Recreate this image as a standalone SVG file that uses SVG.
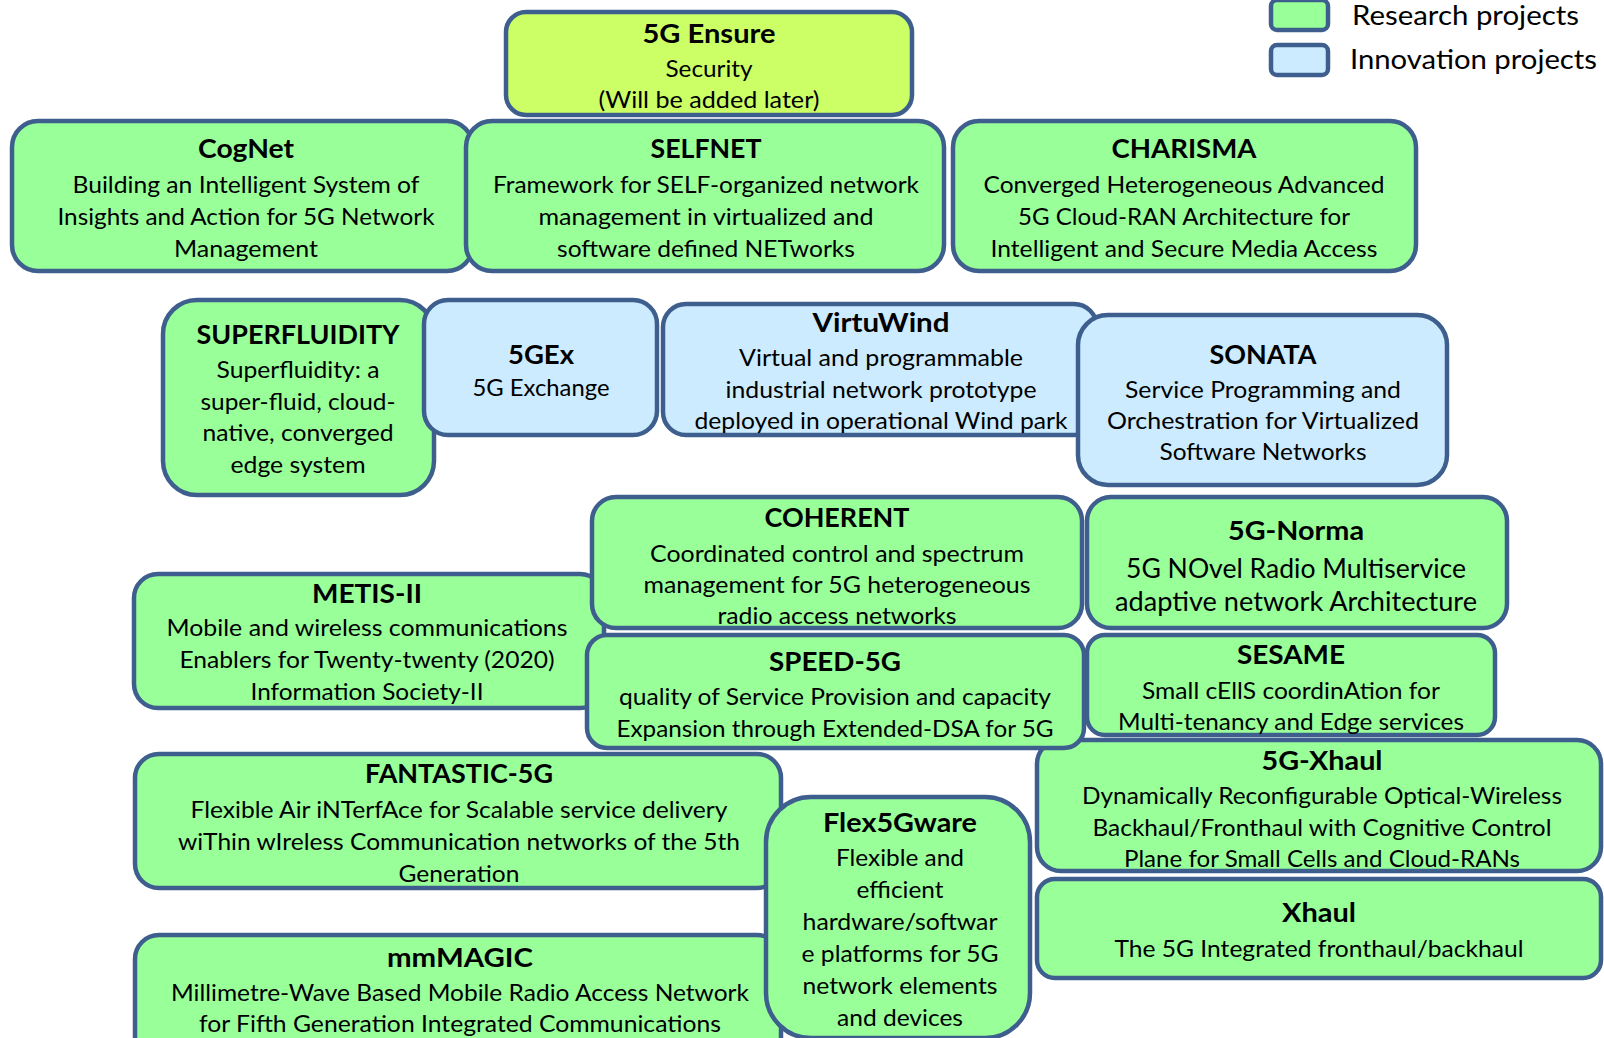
<svg xmlns="http://www.w3.org/2000/svg" width="1604" height="1038" viewBox="0 0 1604 1038">
<style>
.box{stroke:#3E5F8E;stroke-width:4.5}
.g{fill:#99FF99}
.b{fill:#CCEBFF}
.y{fill:#CCFF66}
text{font-family:Lato,"Open Sans","DejaVu Sans",sans-serif;fill:#000;text-anchor:middle}
.t{font-size:27px;font-weight:bold}
.d{font-size:24px}
.n{font-size:27px}
.lg{font-size:27px;text-anchor:start}
</style>
<rect width="1604" height="1038" fill="#fff"/>
<g id="connectors"></g>
<g id="cognet"><rect class="box g" x="12" y="121" width="461" height="150" rx="26"/>
<text class="t" x="246" y="158" textLength="96" lengthAdjust="spacingAndGlyphs">CogNet</text>
<text class="d" x="246" y="193" textLength="347" lengthAdjust="spacingAndGlyphs">Building an Intelligent System of</text>
<text class="d" x="246" y="225" textLength="377" lengthAdjust="spacingAndGlyphs">Insights and Action for 5G Network</text>
<text class="d" x="246" y="257" textLength="144" lengthAdjust="spacingAndGlyphs">Management</text></g>
<g id="selfnet"><rect class="box g" x="466" y="121" width="478" height="150" rx="26"/>
<text class="t" x="706" y="158" textLength="111" lengthAdjust="spacingAndGlyphs">SELFNET</text>
<text class="d" x="706" y="193" textLength="426" lengthAdjust="spacingAndGlyphs">Framework for SELF-organized network</text>
<text class="d" x="706" y="225" textLength="335" lengthAdjust="spacingAndGlyphs">management in virtualized and</text>
<text class="d" x="706" y="257" textLength="298" lengthAdjust="spacingAndGlyphs">software defined NETworks</text></g>
<g id="charisma"><rect class="box g" x="953" y="121" width="463" height="150" rx="26"/>
<text class="t" x="1184" y="158" textLength="145" lengthAdjust="spacingAndGlyphs">CHARISMA</text>
<text class="d" x="1184" y="193" textLength="401" lengthAdjust="spacingAndGlyphs">Converged Heterogeneous Advanced</text>
<text class="d" x="1184" y="225" textLength="332" lengthAdjust="spacingAndGlyphs">5G Cloud-RAN Architecture for</text>
<text class="d" x="1184" y="257" textLength="387" lengthAdjust="spacingAndGlyphs">Intelligent and Secure Media Access</text></g>
<g id="ensure"><rect class="box y" x="506" y="12" width="406" height="103" rx="20"/>
<text class="t" x="709" y="43" textLength="133" lengthAdjust="spacingAndGlyphs">5G Ensure</text>
<text class="d" x="709" y="77" textLength="87" lengthAdjust="spacingAndGlyphs">Security</text>
<text class="d" x="709" y="108" textLength="221" lengthAdjust="spacingAndGlyphs">(Will be added later)</text></g>
<g id="superfluidity"><rect class="box g" x="163" y="300" width="271" height="195" rx="34"/>
<text class="t" x="298" y="344" textLength="203" lengthAdjust="spacingAndGlyphs">SUPERFLUIDITY</text>
<text class="d" x="298" y="378" textLength="163" lengthAdjust="spacingAndGlyphs">Superfluidity: a</text>
<text class="d" x="298" y="410" textLength="195" lengthAdjust="spacingAndGlyphs">super-fluid, cloud-</text>
<text class="d" x="298" y="441" textLength="191" lengthAdjust="spacingAndGlyphs">native, converged</text>
<text class="d" x="298" y="473" textLength="135" lengthAdjust="spacingAndGlyphs">edge system</text></g>
<g id="fivegex"><rect class="box b" x="424" y="300" width="233" height="135" rx="24"/>
<text class="t" x="541" y="364" textLength="66" lengthAdjust="spacingAndGlyphs">5GEx</text>
<text class="d" x="541" y="396" textLength="137" lengthAdjust="spacingAndGlyphs">5G Exchange</text></g>
<g id="virtuwind"><rect class="box b" x="663" y="304" width="434" height="131" rx="23"/>
<text class="t" x="881" y="332" textLength="137" lengthAdjust="spacingAndGlyphs">VirtuWind</text>
<text class="d" x="881" y="366" textLength="284" lengthAdjust="spacingAndGlyphs">Virtual and programmable</text>
<text class="d" x="881" y="398" textLength="311" lengthAdjust="spacingAndGlyphs">industrial network prototype</text>
<text class="d" x="881" y="429" textLength="373" lengthAdjust="spacingAndGlyphs">deployed in operational Wind park</text></g>
<g id="sonata"><rect class="box b" x="1078" y="315" width="369" height="170" rx="30"/>
<text class="t" x="1263" y="364" textLength="107" lengthAdjust="spacingAndGlyphs">SONATA</text>
<text class="d" x="1263" y="398" textLength="276" lengthAdjust="spacingAndGlyphs">Service Programming and</text>
<text class="d" x="1263" y="429" textLength="312" lengthAdjust="spacingAndGlyphs">Orchestration for Virtualized</text>
<text class="d" x="1263" y="460" textLength="207" lengthAdjust="spacingAndGlyphs">Software Networks</text></g>
<g id="metis"><rect class="box g" x="134" y="574" width="470" height="134" rx="24"/>
<text class="t" x="367" y="603" textLength="110" lengthAdjust="spacingAndGlyphs">METIS-II</text>
<text class="d" x="367" y="636" textLength="401" lengthAdjust="spacingAndGlyphs">Mobile and wireless communications</text>
<text class="d" x="367" y="668" textLength="375" lengthAdjust="spacingAndGlyphs">Enablers for Twenty-twenty (2020)</text>
<text class="d" x="367" y="700" textLength="233" lengthAdjust="spacingAndGlyphs">Information Society-II</text></g>
<g id="coherent"><rect class="box g" x="592" y="497" width="490" height="131" rx="24"/>
<text class="t" x="837" y="527" textLength="145" lengthAdjust="spacingAndGlyphs">COHERENT</text>
<text class="d" x="837" y="562" textLength="374" lengthAdjust="spacingAndGlyphs">Coordinated control and spectrum</text>
<text class="d" x="837" y="593" textLength="387" lengthAdjust="spacingAndGlyphs">management for 5G heterogeneous</text>
<text class="d" x="837" y="624" textLength="239" lengthAdjust="spacingAndGlyphs">radio access networks</text></g>
<g id="norma"><rect class="box g" x="1087" y="497" width="420" height="131" rx="24"/>
<text class="t" x="1296" y="540" textLength="136" lengthAdjust="spacingAndGlyphs">5G-Norma</text>
<text class="n" x="1296" y="578" textLength="340" lengthAdjust="spacingAndGlyphs">5G NOvel Radio Multiservice</text>
<text class="n" x="1296" y="611" textLength="362" lengthAdjust="spacingAndGlyphs">adaptive network Architecture</text></g>
<g id="xhaul5g"><rect class="box g" x="1037" y="740" width="564" height="131" rx="24"/>
<text class="t" x="1322" y="770" textLength="121" lengthAdjust="spacingAndGlyphs">5G-Xhaul</text>
<text class="d" x="1322" y="804" textLength="480" lengthAdjust="spacingAndGlyphs">Dynamically Reconfigurable Optical-Wireless</text>
<text class="d" x="1322" y="836" textLength="459" lengthAdjust="spacingAndGlyphs">Backhaul/Fronthaul with Cognitive Control</text>
<text class="d" x="1322" y="867" textLength="396" lengthAdjust="spacingAndGlyphs">Plane for Small Cells and Cloud-RANs</text></g>
<g id="xhaul"><rect class="box g" x="1037" y="879" width="564" height="99" rx="18"/>
<text class="t" x="1319" y="922" textLength="74" lengthAdjust="spacingAndGlyphs">Xhaul</text>
<text class="d" x="1319" y="957" textLength="409" lengthAdjust="spacingAndGlyphs">The 5G Integrated fronthaul/backhaul</text></g>
<g id="speed5g"><rect class="box g" x="587" y="635" width="497" height="113" rx="20"/>
<text class="t" x="835" y="671" textLength="132" lengthAdjust="spacingAndGlyphs">SPEED-5G</text>
<text class="d" x="835" y="705" textLength="432" lengthAdjust="spacingAndGlyphs">quality of Service Provision and capacity</text>
<text class="d" x="835" y="737" textLength="437" lengthAdjust="spacingAndGlyphs">Expansion through Extended-DSA for 5G</text></g>
<g id="sesame"><rect class="box g" x="1087" y="635" width="408" height="100" rx="18"/>
<text class="t" x="1291" y="664" textLength="108" lengthAdjust="spacingAndGlyphs">SESAME</text>
<text class="d" x="1291" y="699" textLength="298" lengthAdjust="spacingAndGlyphs">Small cEllS coordinAtion for</text>
<text class="d" x="1291" y="730" textLength="346" lengthAdjust="spacingAndGlyphs">Multi-tenancy and Edge services</text></g>
<g id="fantastic"><rect class="box g" x="135" y="754" width="646" height="134" rx="24"/>
<text class="t" x="459" y="783" textLength="188" lengthAdjust="spacingAndGlyphs">FANTASTIC-5G</text>
<text class="d" x="459" y="818" textLength="537" lengthAdjust="spacingAndGlyphs">Flexible Air iNTerfAce for Scalable service delivery</text>
<text class="d" x="459" y="850" textLength="562" lengthAdjust="spacingAndGlyphs">wiThin wIreless Communication networks of the 5th</text>
<text class="d" x="459" y="882" textLength="121" lengthAdjust="spacingAndGlyphs">Generation</text></g>
<g id="mmmagic"><rect class="box g" x="135" y="935" width="646" height="130" rx="24"/>
<text class="t" x="460" y="967" textLength="146" lengthAdjust="spacingAndGlyphs">mmMAGIC</text>
<text class="d" x="460" y="1001" textLength="578" lengthAdjust="spacingAndGlyphs">Millimetre-Wave Based Mobile Radio Access Network</text>
<text class="d" x="460" y="1032" textLength="522" lengthAdjust="spacingAndGlyphs">for Fifth Generation Integrated Communications</text></g>
<g id="flex5gware"><rect class="box g" x="766" y="797" width="264" height="241" rx="45"/>
<text class="t" x="900" y="832" textLength="154" lengthAdjust="spacingAndGlyphs">Flex5Gware</text>
<text class="d" x="900" y="866" textLength="128" lengthAdjust="spacingAndGlyphs">Flexible and</text>
<text class="d" x="900" y="898" textLength="87" lengthAdjust="spacingAndGlyphs">efficient</text>
<text class="d" x="900" y="930" textLength="195" lengthAdjust="spacingAndGlyphs">hardware/softwar</text>
<text class="d" x="900" y="962" textLength="197" lengthAdjust="spacingAndGlyphs">e platforms for 5G</text>
<text class="d" x="900" y="994" textLength="195" lengthAdjust="spacingAndGlyphs">network elements</text>
<text class="d" x="900" y="1026" textLength="126" lengthAdjust="spacingAndGlyphs">and devices</text></g>
<g id="legend-research"><rect class="box g" x="1271" y="0" width="57" height="30" rx="6"/>
<text class="lg" x="1352" y="25" textLength="227" lengthAdjust="spacingAndGlyphs">Research projects</text></g>
<g id="legend-innovation"><rect class="box b" x="1271" y="45" width="57" height="30" rx="6"/>
<text class="lg" x="1350" y="69" textLength="247" lengthAdjust="spacingAndGlyphs">Innovation projects</text></g>
</svg>
